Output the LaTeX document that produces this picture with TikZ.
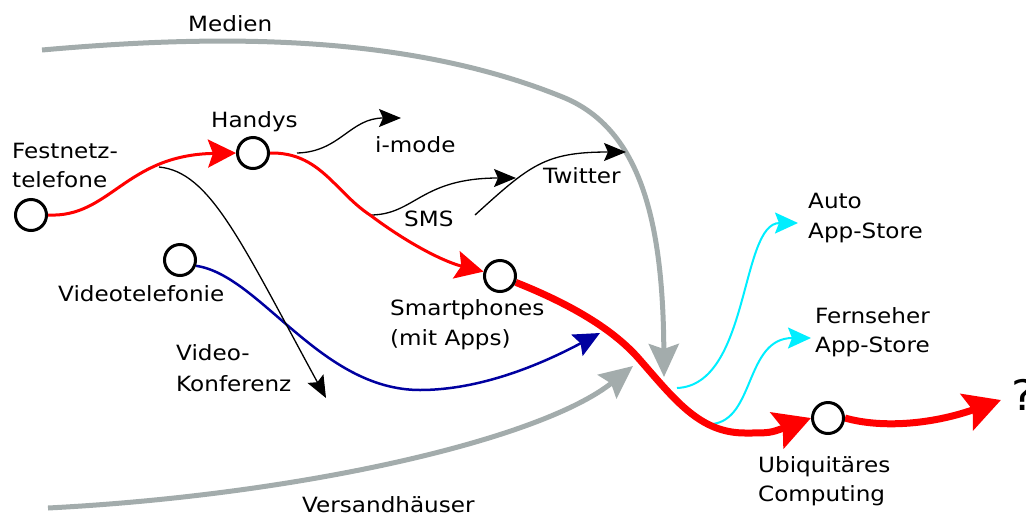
\documentclass[tikz,border=0pt]{standalone}
\usepackage{fontspec}
\setmainfont{DejaVu Sans}[FakeStretch=1.1]
\usetikzlibrary{arrows.meta}
\definecolor{linegray}{RGB}{163,172,172}
\definecolor{navyline}{RGB}{0,0,160}
\definecolor{skyline}{RGB}{0,238,255}
\newcommand\lblfont{\fontsize{21}{25}\selectfont}
\pgfdeclarelayer{background}
\pgfsetlayers{background,main}
\begin{document}
\begin{tikzpicture}[x=1pt,y=-1pt,
  state/.style={circle, draw=black, line width=3pt, fill=white, minimum size=31pt, inner sep=0pt},
  lbl/.style={inner sep=0pt, anchor=base west, font=\lblfont, text=black},
  redthin/.style={red, line width=3pt, -{Stealth[length=28pt,width=28pt,inset=5pt]}},
  redthick/.style={red, line width=7pt, -{Stealth[length=36pt,width=38pt,inset=6pt]}},
  grayflow/.style={linegray, line width=5pt, -{Stealth[length=33pt,width=30pt,inset=5pt]}},
  blueflow/.style={navyline, line width=2.5pt, -{Stealth[length=26pt,width=24pt,inset=4pt]}},
  branch/.style={black, line width=1.3pt, -{Stealth[length=22pt,width=18pt,inset=4pt]}},
  cyanflow/.style={skyline, line width=2pt, -{Stealth[length=23pt,width=21pt,inset=4pt]}}
]
\useasboundingbox (0,0) rectangle (1026,515);

% stations
\node[state] (fest)   at (31,215)  {};
\node[state] (handys) at (253,153) {};
\node[state] (video)  at (180,260) {};
\node[state] (smart)  at (500,276) {};
\node[state] (ubi)    at (828,418) {};

% branch points and free ends
\coordinate (b1) at (159,167);
\coordinate (b2) at (297,153);
\coordinate (s1) at (370,215);
\coordinate (t0) at (475,215);
\coordinate (r1) at (640,360);
\coordinate (r2) at (745,433);
\coordinate (c1) at (677,388);
\coordinate (c2) at (712,424);
\coordinate (m0) at (42,50);
\coordinate (m1) at (565,98);
\coordinate (mtip) at (664,377);
\coordinate (v0) at (48,508);
\coordinate (vtip) at (633,366);
\coordinate (u1) at (420,390);
\coordinate (btip) at (600,333);
\coordinate (ktip) at (326,398);
\coordinate (itip) at (401,118);
\coordinate (stip) at (516,178);
\coordinate (ttip) at (626,152);
\coordinate (atip) at (798,223);
\coordinate (ftip) at (811,338);
\coordinate (fut) at (1001,400);

\begin{pgfonlayer}{background}
% media and mail-order influences
\draw[grayflow] (m0) .. controls (200,36) and (400,30) .. (m1)
                     .. controls (640,130) and (663,220) .. (mtip);
\draw[grayflow] (v0) .. controls (300,495) and (540,440) .. (vtip);
% video telephony
\draw[blueflow] (video.-20) .. controls (260,275) and (320,390) .. (u1)
                            .. controls (480,390) and (540,365) .. (btip);
% side branches
\draw[branch] (b1) .. controls (210,172) and (240,240) .. (ktip);
\draw[branch] (b2) .. controls (340,152) and (350,118) .. (itip);
\draw[branch] (s1) .. controls (415,215) and (420,178) .. (stip);
\draw[branch] (t0) .. controls (530,165) and (545,152) .. (ttip);
% app stores
\draw[cyanflow] (c1) .. controls (750,385) and (740,223) .. (atip);
\draw[cyanflow] (c2) .. controls (755,420) and (745,338) .. (ftip);
% main line
\draw[redthin] (fest.east) .. controls (110,218) and (125,155) .. (handys.west);
\draw[redthin] (handys.east) .. controls (320,152) and (335,192) .. (s1)
                             .. controls (410,245) and (445,262) .. (smart.165);
\draw[redthick] (smart.-22) .. controls (560,300) and (610,325) .. (r1)
                            .. controls (675,400) and (700,433) .. (r2)
                            .. controls (770,433) .. (ubi.west);
\draw[redthick] (ubi.east) .. controls (880,428) and (930,425) .. (fut);
\end{pgfonlayer}

% labels
\node[lbl] (lmedien) at (188,31)  {Medien};
\node[lbl] (lhandys) at (211,127) {Handys};
\node[lbl] (lfest1)  at (12,158)  {Festnetz-};
\node[lbl] (lfest2)  at (12,187)  {telefone};
\node[lbl] (limode)  at (375,152) {i-mode};
\node[lbl] (lsms)    at (404,226) {SMS};
\node[lbl] (ltwit)   at (543,183) {Twitter};
\node[lbl] (lvideo)  at (58,301)  {Videotelefonie};
\node[lbl] (lsmart1) at (390,315) {Smartphones};
\node[lbl] (lsmart2) at (390,345) {(mit Apps)};
\node[lbl] (lkonf1)  at (176,360) {Video-};
\node[lbl] (lkonf2)  at (176,391) {Konferenz};
\node[lbl] (lversand) at (302,512) {Versandhäuser};
\node[lbl] (lauto1)  at (808,208) {Auto};
\node[lbl] (lauto2)  at (808,238) {App-Store};
\node[lbl] (ltv1)    at (815,323) {Fernseher};
\node[lbl] (ltv2)    at (815,352) {App-Store};
\node[lbl] (lubi1)   at (758,472) {Ubiquitäres};
\node[lbl] (lubi2)   at (758,501) {Computing};
\node[lbl, font=\fontsize{42}{50}\selectfont] (lq) at (1011,410) {?};
\end{tikzpicture}
\end{document}
